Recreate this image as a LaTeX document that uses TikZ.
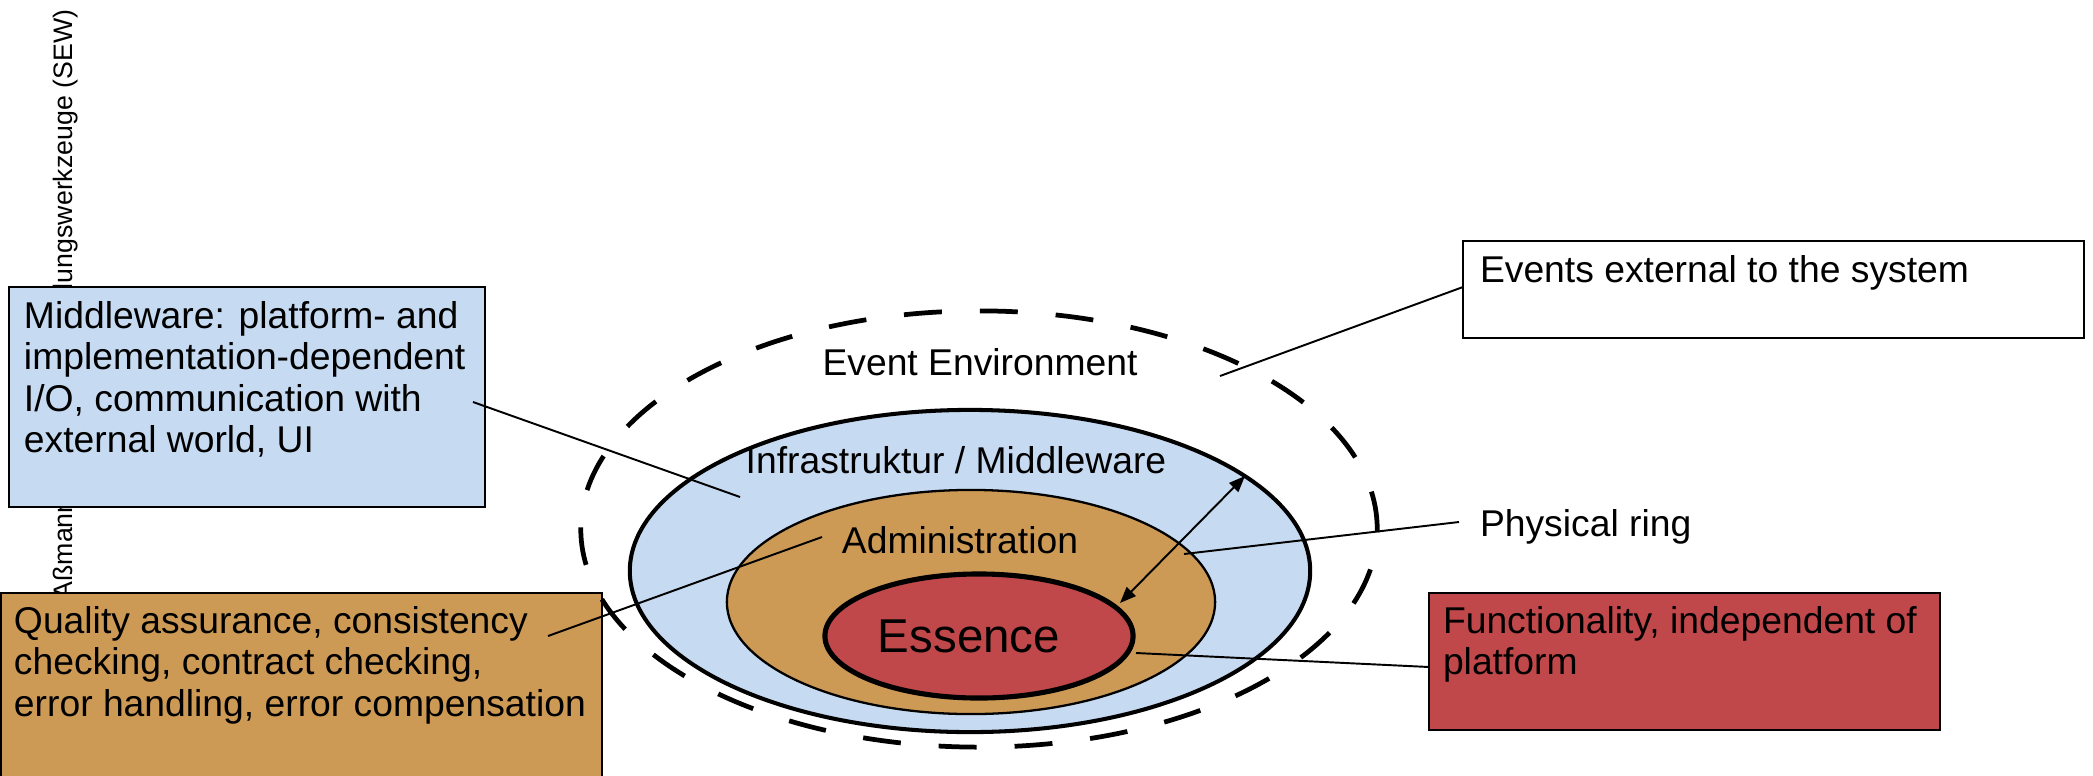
\documentclass[tikz,border=0pt]{standalone}
\usepackage{fontspec}
\setmainfont{Liberation Sans}
\usetikzlibrary{shapes.geometric,arrows.meta}
\definecolor{ringblue}{HTML}{C6DAF1}
\definecolor{ringorange}{HTML}{CC9A55}
\definecolor{ringred}{HTML}{C0484A}
\begin{document}
\begin{tikzpicture}[x=0.01cm,y=-0.01cm,
  txt/.style={font=\fontsize{10.6}{11.8}\selectfont, inner sep=0pt, outer sep=0pt, align=left},
  ringlabel/.style={font=\fontsize{10.6}{11.8}\selectfont, inner sep=0pt, anchor=base},
  box/.style={draw=black, line width=0.6pt, anchor=north west, inner sep=0pt, outer sep=0pt},
  ring/.style={ellipse, inner sep=0pt, outer sep=0pt, draw=black},
  conn/.style={draw=black, line width=0.55pt}
]
\useasboundingbox (0,0) rectangle (2093,775);

% vertical footer text
\node[rotate=90, anchor=base east, inner sep=0pt, font=\fontsize{7.6}{9}\selectfont] (footer) at (73,9)
  {Aßmann, Softwareentwicklungswerkzeuge (SEW)};

% boxes
\node[box, fill=ringblue, minimum width=4.76cm, minimum height=2.20cm] (mwbox) at (9,287) {};
\node[box, fill=ringorange, minimum width=6.01cm, minimum height=2.10cm] (qabox) at (1,593) {};
\node[box, fill=white, minimum width=6.21cm, minimum height=0.97cm] (evbox) at (1463,241) {};
\node[box, fill=ringred, minimum width=5.11cm, minimum height=1.37cm] (fnbox) at (1429,593) {};

% box texts
\node[txt, anchor=north west] (mwtext) at (24,299)
  {\strut Middleware: platform- and\\\strut implementation-dependent\\\strut I/O, communication with\\\strut external world, UI};
\node[txt, anchor=north west] (qatext) at (14,604)
  {\strut Quality assurance, consistency\\\strut checking, contract checking,\\\strut error handling, error compensation};
\node[txt, anchor=north west] (evtext) at (1480,253)
  {\strut Events external to the system};
\node[txt, anchor=north west] (fntext) at (1443,604)
  {\strut Functionality, independent of\\\strut platform};
\node[txt, anchor=north west] (phys) at (1480,507)
  {\strut Physical ring};

% rings
\node[ring, line width=1.35pt, dash pattern=on 10.8pt off 10.8pt, minimum width=7.96cm, minimum height=4.36cm] (env) at (979,529) {};
\node[ring, fill=ringblue, line width=1.15pt, minimum width=6.80cm, minimum height=3.22cm] (infra) at (970,571) {};
\node[ring, fill=ringorange, line width=0.65pt, minimum width=4.88cm, minimum height=2.24cm] (admin) at (971,602) {};
\node[ring, fill=ringred, line width=1.45pt, minimum width=3.08cm, minimum height=1.24cm] (essence) at (979,636) {};

% ring labels
\node[ringlabel] (envlabel) at (980,375) {Event Environment};
\node[ringlabel] (infralabel) at (956,473) {Infrastruktur / Middleware};
\node[ringlabel] (adminlabel) at (960,553) {Administration};
\node[ringlabel, font=\fontsize{13.5}{15}\selectfont] (esslabel) at (969,652) {Essence};

% connector end points
\coordinate (mwA) at (473,402);
\coordinate (mwB) at (740,497);
\coordinate (qaA) at (548,636);
\coordinate (qaB) at (822,537);
\coordinate (evA) at (1463,287);
\coordinate (evB) at (1220,376);
\coordinate (phA) at (1459,522);
\coordinate (phB) at (1184,554);
\coordinate (fnA) at (1429,667);
\coordinate (fnB) at (1136,653);
\coordinate (arrA) at (1245,476);
\coordinate (arrB) at (1120,603);

% connectors
\draw[conn] (mwA) -- (mwB);
\draw[conn] (qaA) -- (qaB);
\draw[conn] (evA) -- (evB);
\draw[conn] (phA) -- (phB);
\draw[conn] (fnA) -- (fnB);
\draw[conn, {Triangle[length=4.6pt,width=3.6pt]}-{Triangle[length=4.6pt,width=3.6pt]}] (arrB) -- (arrA);
\end{tikzpicture}
\end{document}
